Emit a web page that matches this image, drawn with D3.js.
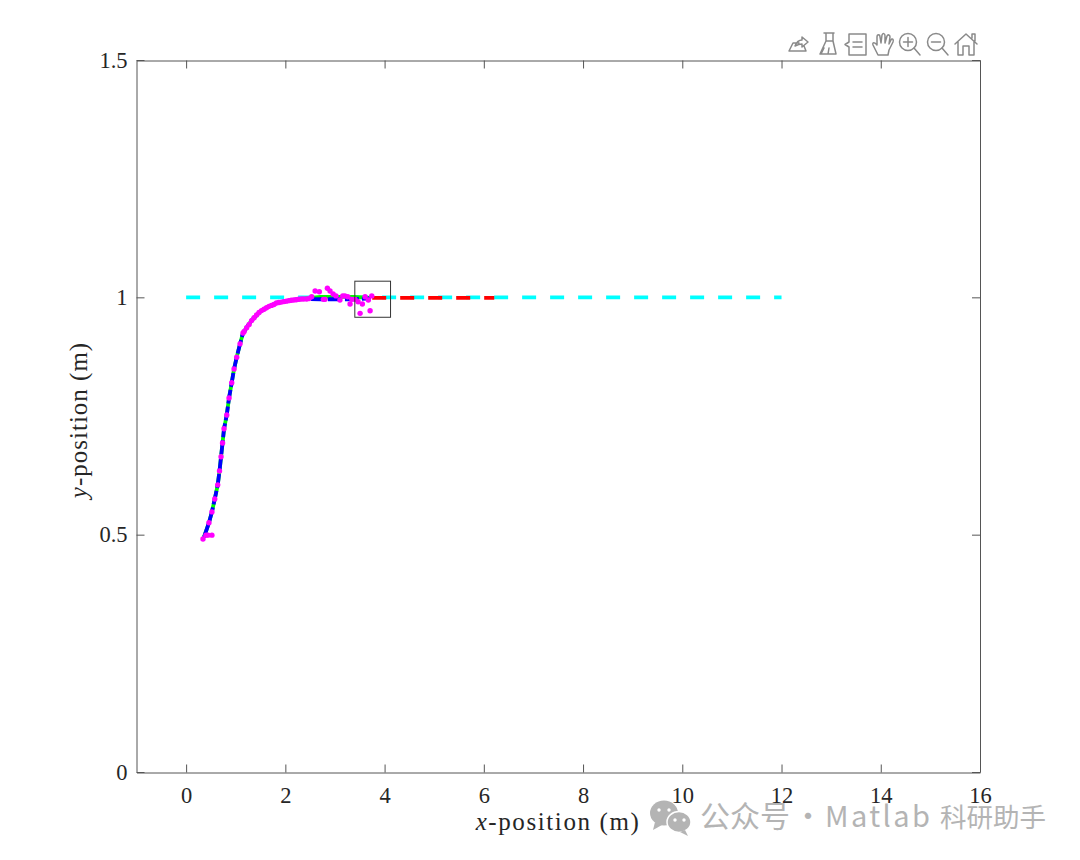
<!DOCTYPE html>
<html><head><meta charset="utf-8">
<script src="https://cdn.jsdelivr.net/npm/d3@7"></script>
<style>html,body{margin:0;background:#fff}svg{display:block}</style></head>
<body><svg id="c" width="1080" height="860"></svg>
<script>
const xTicks=[0,2,4,6,8,10,12,14,16];
const yTicks=[0,0.5,1,1.5];
const yTickLabels=["0","0.5","1","1.5"];
const xDomain=[-1,16], yDomain=[0,1.5];
const referenceLine=[[0,1],[12,1]];
const actualPath=[[.36,.495],[.46,.525],[.52,.548],[.577,.575],[.637,.605],[.673,.634],[.704,.664],[.734,.693],[.764,.723],[.819,.752],[.865,.788],[.919,.820],[.966,.849],[1.02,.874],[1.087,.902],[1.147,.925],[1.187,.931],[1.323,.952],[1.493,.970],[1.651,.980],[1.853,.989],[2.129,.994],[2.33,.9965],[2.7,.996],[3.38,.996],[3.72,.998]];
const greenPath=[[.36,.495],[.46,.525],[.52,.548],[.577,.575],[.637,.605],[.673,.634],[.704,.664],[.734,.693],[.764,.723],[.819,.752],[.865,.788],[.919,.820],[.966,.849],[1.02,.874],[1.087,.902],[1.147,.925],[1.187,.931],[1.323,.952],[1.493,.970],[1.651,.980],[1.853,.989],[2.129,.994],[2.33,.9965],[2.7,1.001],[3.38,1.001],[3.72,.999]];
const redPath=[[3.75,.999],[6.21,.999]];
const estimatePoints=[[.34,.491],[.40,.499],[.44,.499],[.52,.499],[.46,.525],[.52,.548],[.577,.575],[.637,.605],[.673,.634],[.704,.664],[.734,.693],[.764,.723],[.819,.752],[.865,.788],[.919,.820],[.966,.849],[1.02,.874],[1.087,.902],[1.147,.925],[1.17,.928],[1.22,.936],[1.27,.943],[1.32,.951],[1.37,.957],[1.42,.963],[1.47,.968],[1.52,.972],[1.57,.975],[1.62,.978],[1.67,.981],[1.72,.983],[1.77,.985],[1.82,.988],[1.87,.989],[1.92,.990],[1.97,.991],[2.02,.992],[2.07,.993],[2.12,.994],[2.17,.9945],[2.22,.995],[2.27,.996],[2.32,.9965],[2.37,.9965],[2.43,.9965],[2.478,.9975],[2.53,1.0013],[2.6,1.0133],[2.685,1.0118],[2.766,.9958],[2.80,.9958],[2.847,1.019],[2.90,1.0133],[2.962,1.007],[3.02,1.003],[3.10,.9945],[3.157,1.003],[3.20,1.003],[3.258,1.0013],[3.304,.986],[3.34,.9958],[3.405,.9958],[3.466,.9908],[3.552,.986],[3.506,.9663],[3.607,1.0013],[3.673,.9945],[3.708,.9718],[3.742,1.003]];
const insetBox={x0:3.4,x1:4.12,y0:.958,y1:1.034};

const svg=d3.select("#c");
const L=136.5,R=980,T=60,B=772;
const x=d3.scaleLinear(xDomain,[L,R]), y=d3.scaleLinear(yDomain,[B,T]);
const serif="'Liberation Serif',serif";
const axisCol="#555";
const line=d3.line(d=>x(d[0]),d=>y(d[1]));

svg.append("path").attr("d",line(referenceLine)).attr("fill","none").attr("stroke","#00ffff").attr("stroke-width",3.8).attr("stroke-dasharray","14 14");
svg.append("path").attr("d",line(greenPath)).attr("fill","none").attr("stroke","#00ff00").attr("stroke-width",3.8);
svg.append("path").attr("d",line(actualPath)).attr("fill","none").attr("stroke","#0000ff").attr("stroke-width",3.8).attr("stroke-dasharray","14 3");
svg.append("path").attr("d",line(redPath)).attr("fill","none").attr("stroke","#ff0000").attr("stroke-width",3.8).attr("stroke-dasharray","14 14");
svg.append("g").selectAll("circle").data(estimatePoints).join("circle").attr("cx",d=>x(d[0])).attr("cy",d=>y(d[1])).attr("r",2.7).attr("fill","#ff00ff");

svg.append("rect").attr("x",x(insetBox.x0)).attr("y",y(insetBox.y1)).attr("width",x(insetBox.x1)-x(insetBox.x0)).attr("height",y(insetBox.y0)-y(insetBox.y1)).attr("fill","none").attr("stroke","#333").attr("stroke-width",1);

function style(g){g.select(".domain").attr("stroke",axisCol);g.selectAll("line").attr("stroke",axisCol);
 g.selectAll("text").attr("font-family",serif).attr("font-size",22.5).attr("fill","#262626");}
const t=8;
svg.append("g").attr("transform",`translate(0,${B+.5})`).call(d3.axisBottom(x).tickValues(xTicks).tickSize(-t).tickSizeOuter(0).tickPadding(t+7).tickFormat(d3.format("d"))).call(style);
svg.append("g").attr("transform",`translate(0,${T+.5})`).call(d3.axisTop(x).tickValues(xTicks).tickSize(-t).tickSizeOuter(0).tickFormat("")).call(style);
svg.append("g").attr("transform",`translate(${L},0)`).call(d3.axisLeft(y).tickValues(yTicks).tickSize(-t).tickSizeOuter(0).tickPadding(9).tickFormat((d,i)=>yTickLabels[i])).call(style);
svg.append("g").attr("transform",`translate(${R},0)`).call(d3.axisRight(y).tickValues(yTicks).tickSize(-t).tickSizeOuter(0).tickFormat("")).call(style);

const xl=svg.append("text").attr("x",558).attr("y",830).attr("text-anchor","middle").attr("font-family",serif).attr("font-size",25).attr("letter-spacing",1.6).attr("fill","#262626");
xl.append("tspan").attr("font-style","italic").text("x");xl.append("tspan").text("-position (m)");
const yl=svg.append("text").attr("transform","translate(87,420) rotate(-90)").attr("text-anchor","middle").attr("font-family",serif).attr("font-size",25).attr("letter-spacing",1).attr("fill","#262626");
yl.append("tspan").attr("font-style","italic").text("y");yl.append("tspan").text("-position (m)");

const tb=svg.append("g").attr("fill","none").attr("stroke","#8a8a8a").attr("stroke-width",1.5).attr("stroke-linejoin","round").attr("stroke-linecap","round");
tb.append("path").attr("d","M789 51 L793 43 H799 M789 51 H806 L804 46 M795 46 C797 41 800 40 802 40 V37 L808 42 L802 47 V44 C799 44 797 45 795 46 Z");
tb.append("path").attr("d","M824 33 H834 M826 33 V41 L820 54 H836 L833 41 V33 M824 48 L821 54 M829 48 L828 54 M826 41 H833");
tb.append("path").attr("d","M849 34 H866 V55 H849 V47 L845 44.500 L849 42 Z M853 42 H862 M853 47 H862");
tb.append("path").attr("d","M878 55 L873 45 C872 42 875 42 877 45 L877 37 C877 34 880 34 880 37 L881 43 L882 35 C883 33 885 33 885 36 L885 43 L887 36 C888 34 890 35 890 37 L889 44 L891 40 C892 38 894 39 893 42 L889 50 L888 55 Z");
tb.append("circle").attr("cx",908).attr("cy",42).attr("r",8.500);
tb.append("path").attr("d","M914 48 L920 55 M903.500 42 H912.500 M908 37.500 V46.500");
tb.append("circle").attr("cx",936).attr("cy",42).attr("r",8.500);
tb.append("path").attr("d","M942 48 L948 55 M931.500 42 H940.500");
tb.append("path").attr("d","M955 44 L966 34 L977 44 M958 42 V55 H963 V46 H969 V55 H974 V42 M972 38 V34 H975 V41");

const wm=svg.append("g").attr("fill","#b4b4b4");
wm.append("ellipse").attr("cx",664).attr("cy",813).attr("rx",14).attr("ry",12.500);
wm.append("path").attr("d","M655 822 L653 830 L662 825 Z");
wm.append("ellipse").attr("cx",679).attr("cy",822).attr("rx",12).attr("ry",10.500).attr("stroke","#fff").attr("stroke-width",1.500);
wm.append("path").attr("d","M685 830 L688 836 L680 832 Z");
wm.selectAll("circle.e").data([[659,810],[669,810],[675,820],[684,820]]).join("circle").attr("cx",d=>d[0]).attr("cy",d=>d[1]).attr("r",1.700).attr("fill","#fff");
const wt=svg.append("text").attr("y",827).attr("font-family","'Noto Sans CJK SC','Noto Sans',sans-serif").attr("font-size",30).attr("fill","#b4b4b4");
wt.append("tspan").attr("x",700).text("公众号");
wt.append("tspan").attr("x",793).text("·");
wt.append("tspan").attr("x",825).attr("letter-spacing",2.4).attr("font-size",29).text("Matlab");
wt.append("tspan").attr("x",940).attr("font-size",26.5).text("科研助手");
</script></body></html>
